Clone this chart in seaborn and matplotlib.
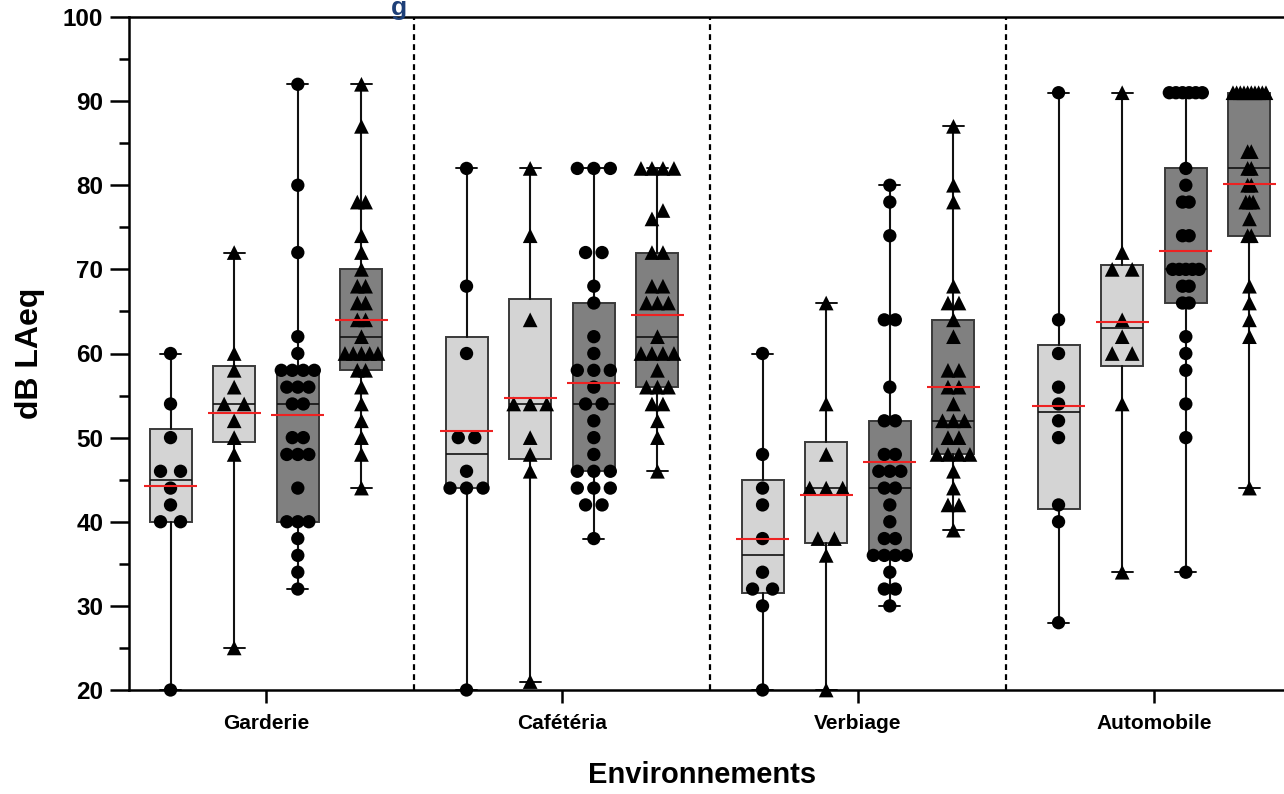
import numpy as np
import pandas as pd
import matplotlib
matplotlib.use("Agg")
import matplotlib.pyplot as plt
from matplotlib.ticker import MultipleLocator
import seaborn as sns

# ---- data (dB LAeq per participant) ----
environments = ["Garderie", "Cafétéria", "Verbiage", "Automobile"]
series_names = ["clair_ronds", "clair_triangles", "fonce_ronds", "fonce_triangles"]

garderie_1 = [60, 54, 50, 46, 46, 44, 42, 40, 40, 20]
garderie_2 = [72, 60, 58, 56, 54, 54, 52, 50, 48, 25]
garderie_3 = [92, 80, 72, 62, 60, 58, 58, 58, 58, 56, 56, 56, 54, 54,
              50, 50, 48, 48, 48, 44, 40, 40, 40, 38, 36, 34, 32]
garderie_4 = [92, 87, 78, 78, 74, 72, 70, 68, 68, 66, 66, 64, 64, 62,
              60, 60, 60, 60, 60, 58, 58, 56, 54, 52, 50, 48, 44]

cafeteria_1 = [82, 68, 60, 50, 50, 46, 44, 44, 44, 20]
cafeteria_2 = [82, 74, 64, 54, 54, 54, 50, 48, 46, 21]
cafeteria_3 = [82, 82, 82, 72, 72, 68, 66, 62, 60, 58, 58, 58, 56, 54,
               54, 52, 50, 48, 46, 46, 46, 44, 44, 44, 42, 42, 38]
cafeteria_4 = [82, 82, 82, 82, 77, 76, 72, 72, 68, 68, 66, 66, 66, 62,
               60, 60, 60, 60, 58, 56, 56, 56, 54, 54, 52, 50, 46]

verbiage_1 = [60, 48, 44, 42, 38, 34, 32, 32, 30, 20]
verbiage_2 = [66, 54, 48, 44, 44, 44, 38, 38, 36, 20]
verbiage_3 = [80, 78, 74, 64, 64, 56, 52, 52, 48, 48, 46, 46, 46, 44,
              44, 42, 40, 38, 38, 36, 36, 36, 36, 34, 32, 32, 30]
verbiage_4 = [87, 80, 78, 68, 66, 66, 64, 62, 58, 58, 56, 56, 54, 52,
              52, 52, 50, 50, 48, 48, 48, 48, 46, 44, 42, 42, 39]

automobile_1 = [91, 64, 60, 56, 54, 52, 50, 42, 40, 28]
automobile_2 = [91, 72, 70, 70, 64, 62, 60, 60, 54, 34]
automobile_3 = [91, 91, 91, 91, 91, 91, 82, 80, 78, 78, 74, 74, 70, 70,
                70, 70, 70, 68, 68, 66, 66, 62, 60, 58, 54, 50, 34]
automobile_4 = [91, 91, 91, 91, 91, 91, 91, 91, 91, 91, 84, 84, 82, 82,
                80, 80, 78, 78, 78, 76, 74, 74, 68, 66, 64, 62, 44]

data = {
    "Garderie": [garderie_1, garderie_2, garderie_3, garderie_4],
    "Cafétéria": [cafeteria_1, cafeteria_2, cafeteria_3, cafeteria_4],
    "Verbiage": [verbiage_1, verbiage_2, verbiage_3, verbiage_4],
    "Automobile": [automobile_1, automobile_2, automobile_3, automobile_4],
}

# ---- style ----
sns.set_theme(style="ticks")
plt.rcParams["font.family"] = ["Liberation Sans", "DejaVu Sans"]
plt.rcParams["font.weight"] = "bold"
for key in ["text.color", "axes.labelcolor", "xtick.color", "ytick.color",
            "axes.edgecolor"]:
    plt.rcParams[key] = "black"

box_fill = ["#d4d4d4", "#d4d4d4", "#808080", "#808080"]
markers = ["o", "^", "o", "^"]
marker_area = {"o": 92, "^": 112}
slot = 0.215            # distance between neighbouring boxes (category units)
box_w = 0.142
cap_w = 0.072
mean_w = 0.178

W, H = 1284, 794
fig = plt.figure(figsize=(W / 100, H / 100), dpi=100)
ax = fig.add_axes([129 / W, 1 - 690 / H, (1291 - 129) / W, (690 - 17) / H])
xmin, xmax = -0.4628, 3.4628
ax.set_xlim(xmin, xmax)
ax.set_ylim(20, 100)
px_per_unit = (1291 - 129) / (xmax - xmin)


def row_offsets(values, span_px=33.0, max_gap_px=20.0, near=1.5):
    """Horizontal offsets (pixels) that lay equal values out side by side."""
    v = np.asarray(values, float)
    order = np.argsort(v, kind="stable")
    clusters, cur = [], [order[0]]
    for i in order[1:]:
        if v[i] - v[cur[-1]] < near:
            cur.append(i)
        else:
            clusters.append(cur)
            cur = [i]
    clusters.append(cur)
    kmax = max(len(c) for c in clusters)
    gap = max_gap_px if kmax < 2 else min(max_gap_px, span_px / (kmax - 1))
    off = np.zeros(len(v))
    for c in clusters:
        k = len(c)
        for j, idx in enumerate(c):
            off[idx] = (j - (k - 1) / 2) * gap
    return off


stats, positions, rows = [], [], []
for ci, env in enumerate(environments):
    for si, vals in enumerate(data[env]):
        v = np.asarray(vals, float)
        pos = ci + (si - 1.5) * slot
        q1, med, q3 = np.percentile(v, [25, 50, 75], method="weibull")
        stats.append(dict(med=med, q1=q1, q3=q3, whislo=v.min(), whishi=v.max(),
                          mean=v.mean(), fliers=[]))
        positions.append(pos)
        offs = row_offsets(v) / px_per_unit
        for val, o in zip(v, offs):
            rows.append(dict(environnement=env, serie=series_names[si],
                             marker=markers[si], x=pos + o, dB=val))

points = pd.DataFrame(rows)

# boxes: min-to-max whiskers
bp = ax.bxp(stats, positions=positions, widths=box_w, capwidths=cap_w,
            patch_artist=True, showfliers=False, manage_ticks=False,
            boxprops=dict(edgecolor="#3a3a3a", linewidth=1.4),
            medianprops=dict(color="#111111", linewidth=1.2),
            whiskerprops=dict(color="#111111", linewidth=1.5),
            capprops=dict(color="#111111", linewidth=1.4))
for i, patch in enumerate(bp["boxes"]):
    patch.set_facecolor(box_fill[i % 4])
    patch.set_zorder(2)

# individual values
for mk in ["o", "^"]:
    sub = points[points["marker"] == mk]
    sns.scatterplot(data=sub, x="x", y="dB", marker=mk, s=marker_area[mk],
                    color="black", edgecolor="none", linewidth=0,
                    legend=False, ax=ax, zorder=4)
    ax.collections[-1].set_clip_on(False)

# means (red)
for st, pos in zip(stats, positions):
    ax.hlines(st["mean"], pos - mean_w / 2, pos + mean_w / 2, color="#ee2222",
              linewidth=1.5, zorder=5)

# environment separators
for xs in [0.5, 1.5, 2.5]:
    ax.axvline(xs, color="black", linewidth=1.6, linestyle=(0, (2.6, 1.9)), zorder=1)

# axes & ticks
ax.set_xticks(range(len(environments)))
ax.set_xticklabels(environments, fontsize=15, fontweight="bold")
ax.yaxis.set_major_locator(MultipleLocator(10))
ax.yaxis.set_minor_locator(MultipleLocator(5))
ax.tick_params(axis="y", which="major", length=13.5, width=1.8, labelsize=17.5, pad=5)
ax.tick_params(axis="y", which="minor", length=7, width=1.8)
ax.tick_params(axis="x", which="major", length=9, width=1.8, pad=8)
for lab in ax.get_yticklabels():
    lab.set_fontweight("bold")
for side in ["left", "bottom", "top"]:
    ax.spines[side].set_linewidth(1.8)
ax.spines["right"].set_visible(False)

ax.set_xlabel("Environnements", fontsize=21, fontweight="bold")
ax.set_ylabel("dB LAeq", fontsize=23, fontweight="bold")
ax.xaxis.set_label_coords((702 - 129) / (1291 - 129), -(775 - 690) / (690 - 17))
ax.yaxis.set_label_coords(-(129 - 30) / (1291 - 129), 0.5)
ax.xaxis.label.set_va("center")
ax.yaxis.label.set_va("center")

# trailing letter of the heading above the frame
fig.text(399 / W, 1 - 14.5 / H, "g", color="#1d3f78", fontsize=19, fontweight="bold",
         ha="center", va="baseline", zorder=0)

fig.savefig("out.png", dpi=100)
